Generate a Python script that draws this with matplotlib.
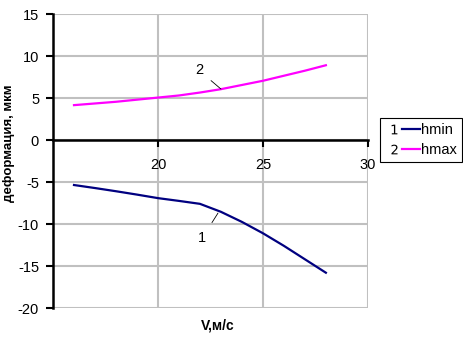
import matplotlib.pyplot as plt
from matplotlib.lines import Line2D
from matplotlib.legend_handler import HandlerTuple

plt.rcParams['font.family'] = ['Liberation Sans', 'DejaVu Sans']
plt.rcParams['axes.unicode_minus'] = False

# speed, m/s
v = [16, 17, 18, 19, 20, 21, 22, 23, 24, 25, 26, 27, 28]
# deformation, um
hmin = [-5.36, -5.72, -6.1, -6.5, -6.92, -7.25, -7.6, -8.55, -9.75, -11.1, -12.6, -14.2, -15.8]
hmax = [4.15, 4.35, 4.55, 4.8, 5.05, 5.3, 5.65, 6.05, 6.55, 7.05, 7.65, 8.25, 8.9]

fig = plt.figure(figsize=(4.63, 3.5), dpi=100)
ax = fig.add_axes([0.1145, 0.12, 0.68, 0.84])

ax.plot(v, hmin, color='#000080', linewidth=1.6, label='hmin')
ax.plot(v, hmax, color='#ff00ff', linewidth=1.6, label='hmax')

ax.set_xlim(15, 30)
ax.set_ylim(-20, 15)
ax.set_xticks([20, 25, 30])
ax.set_yticks(range(-20, 16, 5))
ax.grid(True, color='#c0c0c0', linewidth=1.5)
ax.set_axisbelow(True)

# x axis crosses at zero
ax.spines['bottom'].set_position(('data', 0))
ax.spines['bottom'].set_linewidth(1.8)
ax.spines['left'].set_linewidth(1.8)
ax.spines['top'].set_visible(False)
ax.spines['right'].set_visible(False)
ax.tick_params(axis='both', labelsize=10.5, width=1.5, length=5, color='black')
ax.tick_params(axis='x', pad=8)
ax.tick_params(axis='y', pad=5)

# curve labels
ax.annotate('2', xy=(23.0, 6.07), xytext=(21.95, 8.3), fontsize=10.5,
            ha='center', va='center',
            arrowprops=dict(arrowstyle='-', color='black', linewidth=0.6, shrinkA=5, shrinkB=0))
ax.annotate('1', xy=(22.86, -8.7), xytext=(22.1, -11.7), fontsize=10.5,
            ha='center', va='center',
            arrowprops=dict(arrowstyle='-', color='black', linewidth=0.6, shrinkA=5, shrinkB=0))

ax.set_ylabel('деформация, мкм', fontweight='bold', fontsize=9.5)
ax.yaxis.set_label_coords(-0.12, 0.56)
fig.text(0.47, 0.07, 'V,м/с', fontweight='bold', fontsize=10, ha='center', va='center')

h1 = (Line2D([], [], marker='$1$', color='black', linestyle='none', markersize=7,
             markeredgewidth=0),
      Line2D([], [], color='#000080', linewidth=1.6))
h2 = (Line2D([], [], marker='$2$', color='black', linestyle='none', markersize=7,
             markeredgewidth=0),
      Line2D([], [], color='#ff00ff', linewidth=1.6))
leg = fig.legend([h1, h2], ['hmin', 'hmax'], loc='center left',
                 bbox_to_anchor=(0.82, 0.6), fontsize=10.5, fancybox=False,
                 edgecolor='black', framealpha=1, handlelength=2.4,
                 handletextpad=0.1, borderpad=0.35, labelspacing=0.45,
                 borderaxespad=0, handler_map={tuple: HandlerTuple(ndivide=None, pad=0)})
leg.get_frame().set_linewidth(0.8)

fig.savefig('out.png', dpi=100)
